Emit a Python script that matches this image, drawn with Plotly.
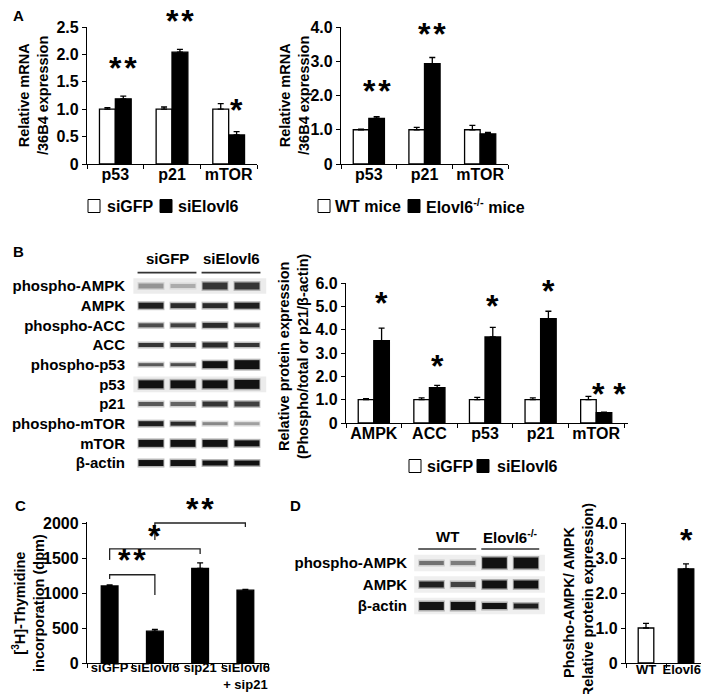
import plotly.graph_objects as go

W, H = 709, 694

# ---- A: relative mRNA / 36B4 ----
genes_a = ["p53", "p21", "mTOR"]
sigfp_a = [1.0, 1.0, 1.0]
sigfp_a_err = [0.03, 0.04, 0.10]
sielovl6_a = [1.19, 2.04, 0.53]
sielovl6_a_err = [0.05, 0.05, 0.06]
stars_a_left = [("p53", "**", 1.66), ("p21", "**", 2.52), ("mTOR", "*", 0.89)]

wt_a = [1.0, 1.0, 1.0]
wt_a_err = [0.02, 0.07, 0.13]
ko_a = [1.33, 2.93, 0.88]
ko_a_err = [0.05, 0.18, 0.04]
stars_a_right = [("p53", "**", 1.99), ("p21", "**", 3.65)]

# ---- B: blot + quantification ----
blot_rows_b = ["phospho-AMPK", "AMPK", "phospho-ACC", "ACC", "phospho-p53",
               "p53", "p21", "phospho-mTOR", "mTOR", "β-actin"]
blot_groups_b = ["siGFP", "siElovl6"]
# band darkness (0-1) and thickness (px) for the 4 lanes
blot_int_b = [[0.45, 0.35, 0.85, 0.85], [0.95, 0.9, 0.9, 0.95], [0.75, 0.8, 0.9, 0.85],
              [0.85, 0.85, 0.9, 0.85], [0.7, 0.75, 1.0, 1.0], [1.0, 1.0, 1.0, 1.0],
              [0.7, 0.65, 0.85, 0.8], [0.95, 0.9, 0.5, 0.4], [1.0, 1.0, 1.0, 1.0],
              [1.0, 1.0, 1.0, 1.0]]
blot_thick_b = [[5, 4, 7, 7], [6, 5, 5, 6], [4, 4, 5, 4], [4, 4, 5, 4], [3, 3, 7, 9],
                [8, 8, 8, 9], [4, 4, 5, 5], [5, 4, 3, 3], [7, 7, 7, 6], [6, 6, 5, 5]]
blot_shaded_b = ["phospho-AMPK", "p53"]

proteins_b = ["AMPK", "ACC", "p53", "p21", "mTOR"]
sigfp_b = [1.0, 1.0, 1.0, 1.0, 1.0]
sigfp_b_err = [0.04, 0.08, 0.10, 0.08, 0.14]
sielovl6_b = [3.53, 1.51, 3.69, 4.47, 0.44]
sielovl6_b_err = [0.54, 0.10, 0.41, 0.32, 0.03]
stars_b = [("AMPK", "*", 4.93), ("ACC", "*", 2.23), ("p53", "*", 4.8),
           ("p21", "*", 5.44), ("mTOR", "* *", 1.03)]

# ---- C: thymidine incorporation ----
groups_c = ["siGFP", "siElovl6", "sip21", "siElovl6<br>+ sip21"]
thymidine = [1100, 455, 1350, 1040]
thymidine_err = [15, 25, 80, 12]
# (from, to, top, left leg end, right leg end, label, label y)
brackets_c = [(0, 1, 1261, 1200, 971, "**", 1400),
              (0, 2, 1629, 1471, 1557, "*", 1743),
              (1, 3, 2000, 1757, 1943, "**", 2129)]

# ---- D: blot + quantification ----
blot_rows_d = ["phospho-AMPK", "AMPK", "β-actin"]
blot_groups_d = ["WT", "Elovl6<sup>-/-</sup>"]
blot_int_d = [[0.6, 0.55, 1.0, 1.0], [0.95, 0.8, 1.0, 1.0], [1.0, 1.0, 1.0, 0.95]]
blot_thick_d = [[4, 4, 11, 11], [6, 5, 8, 8], [8, 8, 6, 5]]

genotypes_d = ["WT", "Elovl6<sup>-/-</sup>"]
pampk_d = [1.0, 2.69]
pampk_d_err = [0.13, 0.14]
stars_d = [("Elovl6<sup>-/-</sup>", "*", 3.37)]

FAM = "Liberation Sans, Arial, sans-serif"
FONT = dict(family=FAM, size=16, color="black", weight="bold")
SMALL = dict(family=FAM, size=15, color="black", weight="bold")
TIGHT = dict(family=FAM, size=13, color="black", weight="bold")
TITLE = dict(family=FAM, size=14.5, color="black", weight="bold")
STAR = dict(family=FAM, size=32, color="black", weight="bold")
STAR_SHIFT = 5


def dom_x(a, b):
    return [a / W, b / W]


def dom_y(top, bottom):
    return [1 - bottom / H, 1 - top / H]


def err(arr):
    return dict(type="data", array=arr, arrayminus=[0] * len(arr), symmetric=False,
                color="black", thickness=1.3, width=3)


def gray(v):
    g = int(round(255 * (1 - 0.93 * v)))
    return f"rgb({g},{g},{g})"


WHITE = dict(color="white", line=dict(color="black", width=1.3))
BLACK = dict(color="black", line=dict(color="black", width=1.3))

fig = go.Figure()

BW = 0.28
# A left
fig.add_trace(go.Bar(x=genes_a, y=sigfp_a, error_y=err(sigfp_a_err), name="siGFP",
                     marker=WHITE, width=BW, offset=-BW, xaxis="x", yaxis="y"))
fig.add_trace(go.Bar(x=genes_a, y=sielovl6_a, error_y=err(sielovl6_a_err), name="siElovl6",
                     marker=BLACK, width=BW, offset=0, xaxis="x", yaxis="y"))
# A right
fig.add_trace(go.Bar(x=genes_a, y=wt_a, error_y=err(wt_a_err), name="WT mice",
                     marker=WHITE, width=BW, offset=-BW, xaxis="x2", yaxis="y2"))
fig.add_trace(go.Bar(x=genes_a, y=ko_a, error_y=err(ko_a_err), name="Elovl6<sup>-/-</sup> mice",
                     marker=BLACK, width=BW, offset=0, xaxis="x2", yaxis="y2"))
# B chart
fig.add_trace(go.Bar(x=proteins_b, y=sigfp_b, error_y=err(sigfp_b_err), name="siGFP",
                     marker=WHITE, width=BW, offset=-BW, xaxis="x3", yaxis="y3"))
fig.add_trace(go.Bar(x=proteins_b, y=sielovl6_b, error_y=err(sielovl6_b_err), name="siElovl6",
                     marker=BLACK, width=BW, offset=0, xaxis="x3", yaxis="y3"))
# C
fig.add_trace(go.Bar(x=groups_c, y=thymidine, error_y=err(thymidine_err),
                     marker=BLACK, width=0.37, xaxis="x4", yaxis="y4"))
# D chart
fig.add_trace(go.Bar(x=genotypes_d, y=pampk_d, error_y=err(pampk_d_err),
                     marker=dict(color=["white", "black"], line=dict(color="black", width=1.3)),
                     width=0.39, xaxis="x5", yaxis="y5"))


def add_blot(intens, thick, xa, ya, halfw=0.42):
    for i, (row_i, row_t) in enumerate(zip(intens, thick)):
        for j, (v, t) in enumerate(zip(row_i, row_t)):
            lane = j + 1
            xs = [lane - halfw, lane + halfw]
            fig.add_trace(go.Scatter(x=xs, y=[i, i], mode="lines", xaxis=xa, yaxis=ya,
                                     line=dict(color=gray(v * 0.6), width=t + 3),
                                     opacity=0.5, hoverinfo="skip"))
            fig.add_trace(go.Scatter(x=[xs[0] + 0.03, xs[1] - 0.03], y=[i, i], mode="lines",
                                     xaxis=xa, yaxis=ya, line=dict(color=gray(v), width=t),
                                     hoverinfo="skip"))


add_blot(blot_int_b, blot_thick_b, "x6", "y6")
add_blot(blot_int_d, blot_thick_d, "x7", "y7")

shapes = []
annotations = []

# blot backgrounds, header lines and labels
for name in blot_shaded_b:
    i = blot_rows_b.index(name)
    shapes.append(dict(type="rect", xref="x6", yref="y6", x0=0.45, x1=4.6, y0=i - 0.4, y1=i + 0.4,
                       fillcolor="#ececec", line=dict(width=0), layer="below"))
for i in range(len(blot_rows_d)):
    shapes.append(dict(type="rect", xref="x7", yref="y7", x0=0.45, x1=4.6, y0=i - 0.38, y1=i + 0.38,
                       fillcolor="#efefef", line=dict(width=0), layer="below"))

for xa, ya, groups, ylab, yline in [("x6", "y6", blot_groups_b, -1.42, -0.68),
                                    ("x7", "y7", blot_groups_d, -1.25, -0.65)]:
    for g, name in enumerate(groups):
        l0, l1 = 2 * g + 1, 2 * g + 2
        shapes.append(dict(type="line", xref=xa, yref=ya, x0=l0 - 0.42, x1=l1 + 0.42,
                           y0=yline, y1=yline, line=dict(color="#333", width=1.6)))
        annotations.append(dict(xref=xa, yref=ya, x=(l0 + l1) / 2, y=ylab, text=name,
                                showarrow=False, font=SMALL))


def star_text(lab):
    return lab.replace("**", "*\u200a*")


def star(xref, yref, x, y, lab, xshift=0):
    return dict(xref=xref, yref=yref, x=x, y=y, text=star_text(lab), showarrow=False,
                font=STAR, xanchor="center", yanchor="middle",
                yshift=STAR_SHIFT, xshift=xshift)


# C brackets
C_MAX = 2020
for a, b, top, ya_, yb_, lab, ly in brackets_c:
    path = f"M{a},{ya_} L{a},{top} L{b},{top} L{b},{yb_}"
    shapes.append(dict(type="path", xref="x4", yref="y4", path=path,
                       line=dict(color="#222", width=1.3)))
    annotations.append(star("x4", "y4 domain", (a + b) / 2, ly / C_MAX, lab))

# significance stars
for xa, ya, ymax, cats, stars, off in [("x", "y", 2.5, genes_a, stars_a_left, BW / 2),
                                       ("x2", "y2", 4.0, genes_a, stars_a_right, BW / 2),
                                       ("x3", "y3", 6.0, proteins_b, stars_b, BW / 2),
                                       ("x5", "y5", 4.0, genotypes_d, stars_d, 0)]:
    for cat, lab, yv in stars:
        annotations.append(star(xa, ya + " domain", cats.index(cat) + off, yv / ymax, lab,
                                xshift=5 if lab == "* *" else 0))

# legends (box + label)
legend_items = [("siGFP", "white", 80, 97, 198), ("siElovl6", "black", 152, 168, 198),
                ("WT mice", "white", 310, 325, 198),
                ("Elovl6<sup>-/-</sup> mice", "black", 400, 416, 198),
                ("siGFP", "white", 401, 417, 458), ("siElovl6", "black", 469, 487, 458)]
for label, fill, bx, tx, cy in legend_items:
    shapes.append(dict(type="rect", xref="paper", yref="paper",
                       x0=bx / W, x1=(bx + 12) / W, y0=1 - (cy + 6.5) / H, y1=1 - (cy - 6.5) / H,
                       fillcolor=fill, line=dict(color="black", width=1)))
    annotations.append(dict(xref="paper", yref="paper", x=tx / W, y=1 - cy / H, text=label,
                            showarrow=False, font=FONT, xanchor="left", yanchor="middle"))

# y-axis titles
for txt, cx, cy in [("Relative mRNA<br>/36B4 expression", 25, 88),
                    ("Relative mRNA<br>/36B4 expression", 286, 88),
                    ("Relative protein expression<br>(Phospho/total or p21/β-actin)", 285, 348),
                    ("[<sup>3</sup>H]-Thymidine<br>incorporation (dpm)", 20, 595),
                    ("Phosho-AMPK/ AMPK<br>(Relative protein expression)", 570, 595)]:
    annotations.append(dict(xref="paper", yref="paper", x=cx / W, y=1 - cy / H, text=txt,
                            textangle=-90, showarrow=False, font=TITLE,
                            xanchor="center", yanchor="middle"))

# panel letters
for txt, cx, cy in [("A", 10, 8), ("B", 10, 244), ("C", 12, 497), ("D", 287, 497)]:
    annotations.append(dict(xref="paper", yref="paper", x=cx / W, y=1 - cy / H, text=txt,
                            showarrow=False, font=SMALL, xanchor="center", yanchor="middle"))

AX = dict(showline=True, linecolor="black", linewidth=1.3, ticks="outside", ticklen=4,
          tickcolor="black", tickwidth=1.2, showgrid=False, zeroline=False,
          tickfont=FONT, fixedrange=True, automargin=False)
XCAT = dict(AX, tickson="boundaries", tickangle=0, ticklabelstandoff=-4)
BLOT_X = dict(showline=False, showgrid=False, zeroline=False, showticklabels=False, ticks="",
              automargin=False)
BLOT_Y = dict(showline=False, showgrid=False, zeroline=False, ticks="", tickfont=SMALL,
              automargin=False)


def ticks(vals, fmt):
    return dict(tickvals=vals, ticktext=[("0" if v == 0 else fmt.format(v)) for v in vals])


fig.update_layout(
    template="none",
    width=W, height=H, margin=dict(l=0, r=0, t=0, b=0),
    paper_bgcolor="white", plot_bgcolor="white", font=FONT,
    barmode="overlay", showlegend=False,
    xaxis=dict(XCAT, domain=dom_x(79, 249), anchor="y"),
    yaxis=dict(AX, domain=dom_y(19, 156), anchor="x", range=[0, 2.5],
               **ticks([0, 0.5, 1.0, 1.5, 2.0, 2.5], "{:.1f}")),
    xaxis2=dict(XCAT, domain=dom_x(333, 500), anchor="y2"),
    yaxis2=dict(AX, domain=dom_y(19, 156), anchor="x2", range=[0, 4],
                **ticks([0, 1, 2, 3, 4], "{:.1f}")),
    xaxis3=dict(XCAT, domain=dom_x(338, 620), anchor="y3"),
    yaxis3=dict(AX, domain=dom_y(275, 415), anchor="x3", range=[0, 6],
                **ticks([0, 1, 2, 3, 4, 5, 6], "{:.1f}")),
    xaxis4=dict(XCAT, domain=dom_x(79, 260), anchor="y4", tickfont=TIGHT,
                ticklabelstandoff=-8),
    yaxis4=dict(AX, domain=dom_y(513.6, 655), anchor="x4", range=[0, C_MAX],
                **ticks([0, 500, 1000, 1500, 2000], "{:d}")),
    xaxis5=dict(XCAT, domain=dom_x(618, 698), anchor="y5", tickfont=TIGHT,
                ticklabelstandoff=-6),
    yaxis5=dict(AX, domain=dom_y(515, 655), anchor="x5", range=[0, 4],
                **ticks([0, 1, 2, 3, 4], "{:.1f}")),
    xaxis6=dict(BLOT_X, domain=dom_x(118, 262), anchor="y6",
                range=[1 + (118 - 143) / 32, 1 + (262 - 143) / 32]),
    yaxis6=dict(BLOT_Y, domain=dom_y(240, 470), anchor="x6",
                range=[(470 - 278) / 19.67, (240 - 278) / 19.67],
                tickvals=list(range(len(blot_rows_b))), ticktext=blot_rows_b),
    xaxis7=dict(BLOT_X, domain=dom_x(400, 545), anchor="y7",
                range=[1 + (400 - 423.5) / 31.5, 1 + (545 - 423.5) / 31.5]),
    yaxis7=dict(BLOT_Y, domain=dom_y(515, 612), anchor="x7",
                range=[(612 - 555) / 21.5, (515 - 555) / 21.5],
                tickvals=list(range(len(blot_rows_d))), ticktext=blot_rows_d),
    shapes=shapes, annotations=annotations,
)

fig.write_html("out.html")
